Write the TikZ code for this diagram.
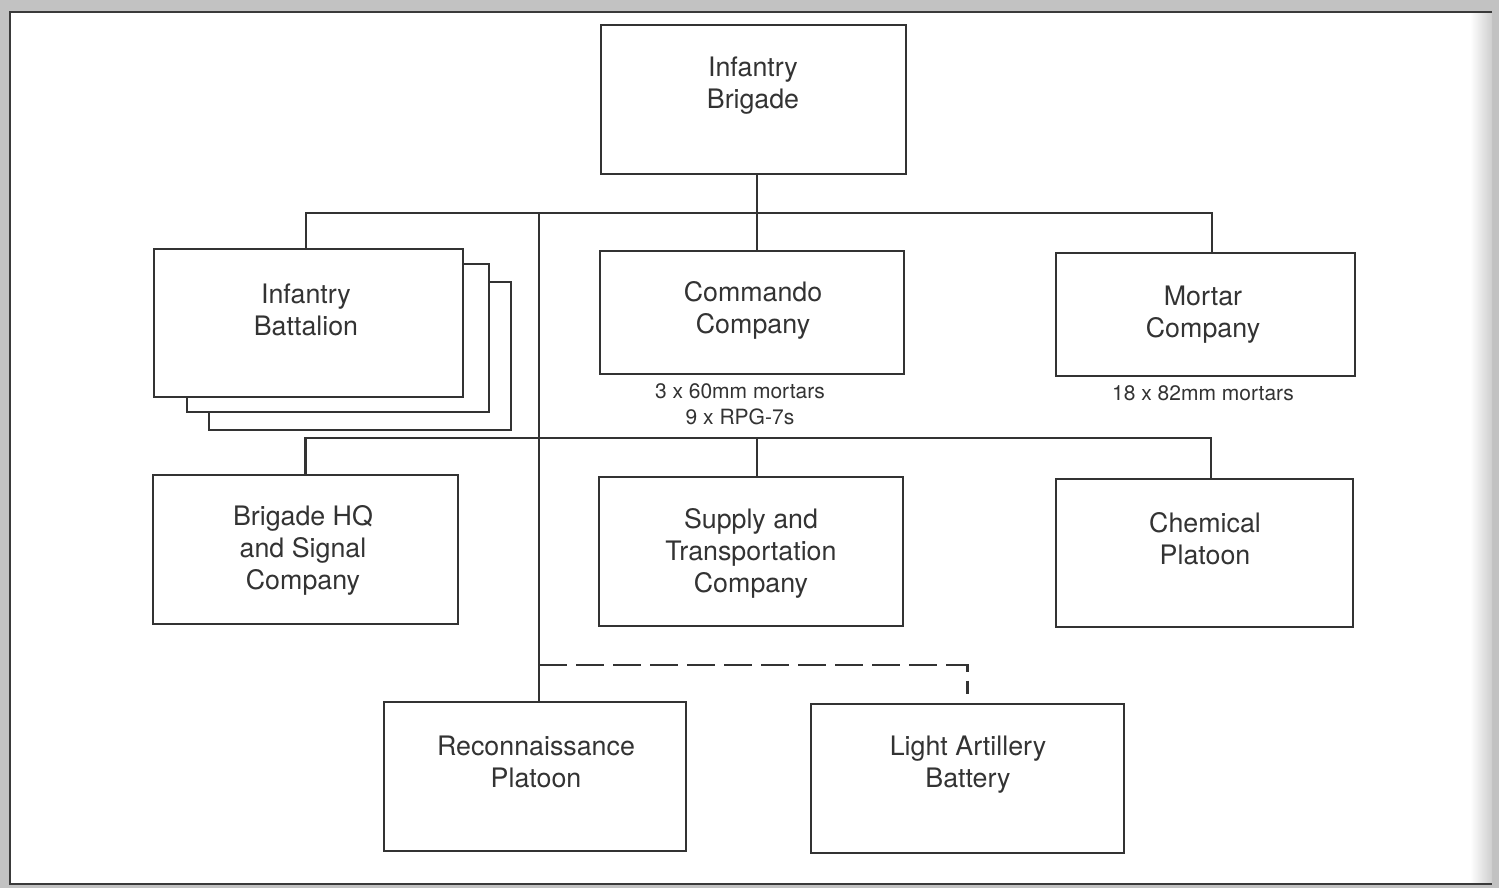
\documentclass[tikz,border=0pt]{standalone}
\usepackage{fontspec}
\setmainfont{TeX Gyre Heros}
\definecolor{ink}{HTML}{333333}
\definecolor{paper}{HTML}{C2C2C2}
\definecolor{rim}{HTML}{3A3A3A}

\begin{document}
\begin{tikzpicture}[x=0.5pt,y=-0.5pt,
  box/.style={draw=ink, line width=1.2pt, fill=white, inner sep=0pt},
  lbl/.style={text=ink, align=center, font=\fontsize{13.4}{16}\selectfont, inner sep=0pt},
  note/.style={text=ink, align=center, font=\fontsize{10.5}{13}\selectfont, inner sep=0pt},
  link/.style={draw=ink, line width=1.2pt, line join=miter},
  option/.style={link, dash pattern=on 14pt off 4.5pt}]

% page and frame
\useasboundingbox (0,0) rectangle (1499,888);
\fill[paper] (0,0) rectangle (1499,888);
\fill[white] (10,12) rectangle (1492,884);
\shade[left color=white, right color=paper!80] (1470,12) rectangle (1492,884);
\draw[rim, line width=1.4pt] (1492,12) -- (10,12) -- (10,884) -- (1492,884);

% junction points of the tree
\coordinate (bus1) at (757,213);
\coordinate (spine) at (539,213);
\coordinate (bus2) at (757,438);
\coordinate (opt) at (539,665);

% box outlines (placed before the connectors are drawn)
\path
  (753.5,99.5) node[box, minimum width=152.5pt, minimum height=74.5pt] (brig) {}
  (752,312.5)  node[box, minimum width=152pt,   minimum height=61.5pt] (cmdo) {}
  (1205.5,314.5) node[box, minimum width=149.5pt, minimum height=61.5pt] (mort) {}
  (305.5,549.5) node[box, minimum width=152.5pt, minimum height=74.5pt] (hq) {}
  (751,551.5)  node[box, minimum width=152pt,   minimum height=74.5pt] (supp) {}
  (1204.5,553) node[box, minimum width=148.5pt, minimum height=74pt] (chem) {}
  (535,776.5)  node[box, minimum width=151pt,   minimum height=74.5pt] (recon) {}
  (967.5,778.5) node[box, minimum width=156.5pt, minimum height=74.5pt] (art) {};
\path
  (308.5,323) node[minimum width=154.5pt, minimum height=74pt, inner sep=0pt] (batt) {};

% connectors
\draw[link] ([xshift=-1.25pt]batt.north) |- (bus1) -| ([xshift=3.25pt]mort.north);
\draw[link] (brig.south -| bus1) -- (bus1 |- cmdo.north);
\draw[link] (spine) -- (spine |- recon.north);
\draw[link] (hq.north) |- (bus2) -| ([xshift=3.25pt]chem.north);
\draw[link] (bus2) -- (bus2 |- supp.north);
\draw[option] (opt) -| ([yshift=4.5pt]art.north);

% stacked battalion boxes
\node[box, minimum width=151pt, minimum height=74pt] (batt3) at (360,356) {};
\node[box, minimum width=151pt, minimum height=74pt] (batt2) at (338,338) {};
\node[box, minimum width=154.5pt, minimum height=74pt] (battf) at (batt) {};

% labels
\node[lbl] (brigT)  at (753,86)   {Infantry\\Brigade};
\node[lbl] (battT)  at (306,310)  {Infantry\\Battalion};
\node[lbl] (cmdoT)  at (753,310)  {Commando\\Company};
\node[lbl] (mortT)  at (1203,314.5) {Mortar\\Company};
\node[lbl] (hqT)    at (303,550.5)  {Brigade HQ\\and Signal\\Company};
\node[lbl] (suppT)  at (751,553.5)  {Supply and\\Transportation\\Company};
\node[lbl] (chemT)  at (1205,539) {Chemical\\Platoon};
\node[lbl] (reconT) at (536,762)  {Reconnaissance\\Platoon};
\node[lbl] (artT)   at (968,764.5)  {Light Artillery\\Battery};

\node[note] (cmdoN) at (740,404)  {3 x 60mm mortars\\9 x RPG-7s};
\node[note] (mortN) at (1203,393) {18 x 82mm mortars};
\end{tikzpicture}
\end{document}
